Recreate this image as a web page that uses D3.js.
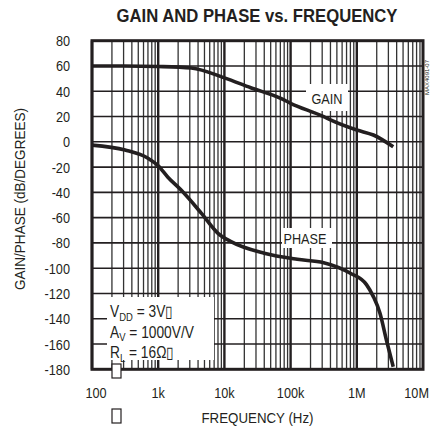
<!DOCTYPE html>
<html>
<head>
<meta charset="utf-8">
<script src="https://cdn.jsdelivr.net/npm/d3@7"></script>
<style>
  html, body { margin: 0; padding: 0; background: #fff; }
  svg { display: block; }
  text { font-family: "Liberation Sans Narrow", "Arial Narrow", "Liberation Sans", Arial, sans-serif; fill: #231f20; }
</style>
</head>
<body>
<div id="chart"></div>
<script>
// Open-loop gain (dB) and phase (degrees) against frequency (Hz)
const gainFreq = [100, 300, 1000, 3160, 10000, 25000, 71000, 100000, 316000, 400000, 1000000, 1780000, 3550000];
const gainDb   = [60, 60, 59.6, 58.4, 50.6, 42.8, 34.4, 30.5, 19.9, 17.3, 9.3, 5.4, -3.9];

const phaseFreq = [100, 316, 700, 1000, 1400, 2200, 4500, 8000, 12600, 40000, 126000, 316000, 800000, 1400000, 1780000, 2240000, 2800000, 3550000];
const phaseDeg  = [-2.6, -6.5, -13, -19, -28, -38, -56.6, -72.4, -79, -88.2, -93, -95.6, -104, -113, -122.5, -135.6, -156.8, -178];

const yTicks = [80, 60, 40, 20, 0, -20, -40, -60, -80, -100, -120, -140, -160, -180];
const xTickValues = [100, 1e3, 1e4, 1e5, 1e6, 1e7];
const xTickLabels = ["100", "1k", "10k", "100k", "1M", "10M"];

const legendLines = [
  [["V", false], ["DD", true], [" = 3V\u25AF", false]],
  [["A", false], ["V", true], [" = 1000V/V", false]],
  [["R", false], ["L", true], [" = 16\u03A9\u25AF", false]]
];

const W = 430, H = 427;
const ink = "#231f20";
const NARROW = 0.82;   // horizontal squeeze for a condensed face

const svg = d3.select("#chart").append("svg")
  .attr("width", W).attr("height", H);

const x = d3.scaleLog().domain([100, 1e7]).range([92, 423]);
const y = d3.scaleLinear().domain([-180, 80]).range([369.3, 40.7]);

// condensed text placed at (px, py)
function narrowText(parent, px, py, str, opts = {}) {
  const k = opts.k || NARROW;
  return parent.append("text")
    .attr("transform", `translate(${px},${py}) scale(${k},1)`)
    .attr("text-anchor", opts.anchor || "start")
    .attr("font-size", opts.size || 15)
    .attr("font-weight", opts.weight || null)
    .attr("fill", opts.fill || ink)
    .text(str);
}

// minor + decade vertical grid lines
const decades = [100, 1e3, 1e4, 1e5, 1e6];
const vLines = [];
decades.forEach(d => { for (let k = 1; k <= 9; k++) vLines.push({ f: d * k, major: k === 1 }); });

const grid = svg.append("g");
grid.selectAll("line.v").data(vLines).join("line")
  .attr("class", "v")
  .attr("x1", d => x(d.f)).attr("x2", d => x(d.f))
  .attr("y1", y(80)).attr("y2", y(-180))
  .attr("stroke", d => d.major ? ink : "#333")
  .attr("stroke-width", d => d.major ? 2.4 : 1.3);

grid.selectAll("line.h").data(yTicks).join("line")
  .attr("class", "h")
  .attr("x1", x(100)).attr("x2", x(1e7))
  .attr("y1", d => y(d)).attr("y2", d => y(d))
  .attr("stroke", ink).attr("stroke-width", 1.6);

// label backgrounds that interrupt the grid
svg.append("rect").attr("x", 107).attr("y", 297).attr("width", 107).attr("height", 63).attr("fill", "#fff");
svg.append("rect").attr("x", 306).attr("y", 84).attr("width", 42).attr("height", 27).attr("fill", "#fff");
svg.append("rect").attr("x", 282).attr("y", 228).attr("width", 50).attr("height", 20).attr("fill", "#fff");

// curves
const line = d3.line().x(d => x(d[0])).y(d => y(d[1])).curve(d3.curveMonotoneX);
svg.append("path")
  .attr("d", line(gainFreq.map((f, i) => [f, gainDb[i]])))
  .attr("fill", "none").attr("stroke", ink).attr("stroke-width", 3.6)
  .attr("stroke-linejoin", "round");
svg.append("path")
  .attr("d", line(phaseFreq.map((f, i) => [f, phaseDeg[i]])))
  .attr("fill", "none").attr("stroke", ink).attr("stroke-width", 3.6)
  .attr("stroke-linejoin", "round");

// frame
svg.append("rect")
  .attr("x", x(100)).attr("y", y(80))
  .attr("width", x(1e7) - x(100)).attr("height", y(-180) - y(80))
  .attr("fill", "none").attr("stroke", ink).attr("stroke-width", 3);

// title
svg.append("text")
  .attr("x", 257).attr("y", 22)
  .attr("text-anchor", "middle")
  .attr("font-size", 18).attr("font-weight", "bold")
  .attr("textLength", 281).attr("lengthAdjust", "spacingAndGlyphs")
  .text("GAIN AND PHASE vs. FREQUENCY");

// y tick labels
const yl = svg.append("g");
yTicks.forEach(v => narrowText(yl, 70, y(v) + 5.5, String(v), { anchor: "end", size: 15.5 }));

// x tick labels
const xl = svg.append("g");
xTickValues.forEach((v, i) => {
  const last = i === xTickValues.length - 1;
  narrowText(xl, last ? 429 : x(v) + (i === 0 ? 4 : 0), 398, xTickLabels[i],
    { anchor: last ? "end" : "middle", size: 15.5 });
});

// axis titles
svg.append("text")
  .attr("transform", "translate(25,199) rotate(-90)")
  .attr("text-anchor", "middle")
  .attr("font-size", 14)
  .attr("textLength", 182).attr("lengthAdjust", "spacingAndGlyphs")
  .text("GAIN/PHASE (dB/DEGREES)");

svg.append("text")
  .attr("x", 257.5).attr("y", 423)
  .attr("text-anchor", "middle")
  .attr("font-size", 15)
  .attr("textLength", 112).attr("lengthAdjust", "spacingAndGlyphs")
  .text("FREQUENCY (Hz)");

// curve labels
narrowText(svg, 327, 103.5, "GAIN", { anchor: "middle", size: 15.5, fill: "#333" });
narrowText(svg, 305, 244, "PHASE", { anchor: "middle", size: 15.5, fill: "#333" });

// operating conditions
const leg = svg.append("g");
legendLines.forEach((parts, i) => {
  const t = leg.append("text")
    .attr("transform", `translate(110,${317 + i * 20.5}) scale(0.86,1)`)
    .attr("font-size", 16);
  let wasSub = false;
  parts.forEach(([s, sub]) => {
    const ts = t.append("tspan").text(s);
    if (sub) { ts.attr("font-size", 11).attr("dy", 3.5); wasSub = true; }
    else if (wasSub) { ts.attr("dy", -3.5); wasSub = false; }
  });
});

// stray glyph boxes
svg.append("rect").attr("x", 112).attr("y", 364).attr("width", 9).attr("height", 14)
  .attr("fill", "#fff").attr("stroke", ink).attr("stroke-width", 1.2);
svg.append("rect").attr("x", 112).attr("y", 409).attr("width", 9).attr("height", 14)
  .attr("fill", "#fff").attr("stroke", ink).attr("stroke-width", 1.2);

// figure code
svg.append("text")
  .attr("transform", "translate(429,95) rotate(-90)")
  .attr("font-size", 6).attr("fill", "#777")
  .text("MAX4091-07");
</script>
</body>
</html>
